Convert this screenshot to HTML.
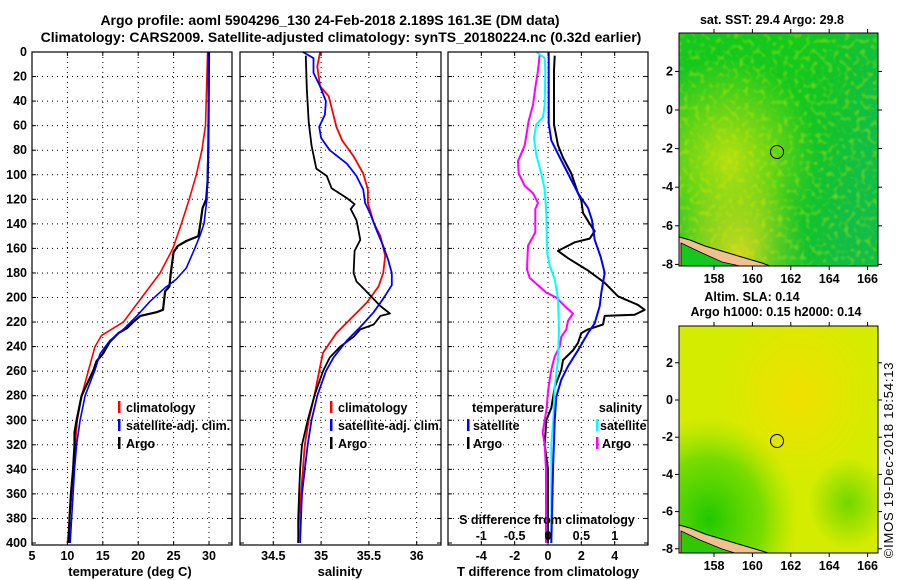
<!DOCTYPE html>
<html><head><meta charset="utf-8"><style>
html,body{margin:0;padding:0;background:#fff}
svg{display:block;font-family:"Liberation Sans",Arial,sans-serif;font-weight:bold}
</style></head><body>
<svg id="fig" width="900" height="580" viewBox="0 0 900 580" xmlns="http://www.w3.org/2000/svg">
<defs>
<radialGradient id="sstY" cx="0.25" cy="0.55" r="0.45"><stop offset="0" stop-color="#b8e010"/><stop offset="1" stop-color="#b8e010" stop-opacity="0"/></radialGradient>
<radialGradient id="sstY2" cx="0.3" cy="0.95" r="0.35"><stop offset="0" stop-color="#d0d820"/><stop offset="1" stop-color="#d0d820" stop-opacity="0"/></radialGradient>
<linearGradient id="sstB" x1="0" y1="0" x2="1" y2="0.3"><stop offset="0.6" stop-color="#10b840" stop-opacity="0"/><stop offset="1" stop-color="#10b860" stop-opacity="0.6"/></linearGradient>
<radialGradient id="slaO" cx="0.6" cy="0.3" r="0.4"><stop offset="0" stop-color="#f0e000"/><stop offset="1" stop-color="#f0e000" stop-opacity="0"/></radialGradient>
<radialGradient id="slaG" cx="0.15" cy="0.85" r="0.45"><stop offset="0" stop-color="#20c800"/><stop offset="0.6" stop-color="#60d800" stop-opacity="0.8"/><stop offset="1" stop-color="#90e000" stop-opacity="0"/></radialGradient>
<radialGradient id="slaG2" cx="0.85" cy="0.78" r="0.2"><stop offset="0" stop-color="#70d800"/><stop offset="1" stop-color="#70d800" stop-opacity="0"/></radialGradient>
<filter id="noise" x="0" y="0" width="1" height="1"><feTurbulence type="fractalNoise" baseFrequency="0.18" numOctaves="1" seed="3"/><feColorMatrix type="matrix" values="0 0 0 0 0.7  0 0 0 0 0.85  0 0 0 0 0  0 0 0 2.2 -1.1"/><feComposite in2="SourceGraphic" operator="in"/></filter>
</defs>

<g font-size="14" text-anchor="middle">
<text x="330" y="25">Argo profile: aoml 5904296_130 24-Feb-2018 2.189S 161.3E (DM data)</text>
<text x="341" y="42">Climatology: CARS2009. Satellite-adjusted climatology: synTS_20180224.nc (0.32d earlier)</text>
</g>

<g id="grids"></g>
<g id="lines"></g>
<g id="frames"></g>
<g id="labels" font-size="12.5"></g>

<!-- legends -->
<g font-size="12.5">
<rect x="118" y="401" width="2.5" height="12" fill="#f00"/><text x="126" y="412">climatology</text>
<rect x="118" y="419" width="2.5" height="12" fill="#00f"/><text x="126" y="430">satellite-adj. clim.</text>
<rect x="118" y="437" width="2.5" height="12" fill="#000"/><text x="126" y="448">Argo</text>
</g>
<g font-size="12.5">
<rect x="330" y="401" width="2.5" height="12" fill="#f00"/><text x="338" y="412">climatology</text>
<rect x="330" y="419" width="2.5" height="12" fill="#00f"/><text x="338" y="430">satellite-adj. clim.</text>
<rect x="330" y="437" width="2.5" height="12" fill="#000"/><text x="338" y="448">Argo</text>
</g>
<g font-size="12.5">
<text x="472" y="412">temperature</text>
<rect x="467" y="419" width="2.5" height="12" fill="#00f"/><text x="473" y="430">satellite</text>
<rect x="467" y="437" width="2.5" height="12" fill="#000"/><text x="473" y="448">Argo</text>
<text x="642" y="412" text-anchor="end">salinity</text>
<rect x="596" y="419" width="2.5" height="12" fill="#0ff"/><text x="600" y="430">satellite</text>
<rect x="596" y="437" width="2.5" height="12" fill="#f0f"/><text x="602" y="448">Argo</text>
</g>

<!-- maps -->
<g>
<rect x="679" y="33" width="199" height="233" fill="#14c81e"/>
<rect x="679" y="33" width="199" height="233" fill="url(#sstY)"/>
<rect x="679" y="33" width="199" height="233" fill="url(#sstY2)"/>
<rect x="679" y="33" width="199" height="233" fill="url(#sstB)"/>
<rect x="679" y="33" width="199" height="233" fill="#fff" filter="url(#noise)" opacity="0.6"/>
<path d="M679,237 L690,240 L705,246 L725,252 L745,258 L762,263 L770,266 L679,266 Z" fill="#f0c090" stroke="#000" stroke-width="1"/>
<path d="M681,243 L700,252 L722,262 L740,266 L681,266 Z" fill="#14c81e" stroke="#000" stroke-width="0.8"/>
<circle cx="777" cy="152" r="6.5" fill="none" stroke="#000" stroke-width="1"/>
<rect x="679" y="33" width="199" height="233" fill="none" stroke="#000" stroke-width="1"/>
</g>
<text x="772" y="24" font-size="12.5" text-anchor="middle">sat. SST: 29.4 Argo: 29.8</text>
<g>
<rect x="679" y="326" width="199" height="227" fill="#d4ec00"/>
<rect x="679" y="326" width="199" height="227" fill="url(#slaO)"/>
<rect x="679" y="326" width="199" height="227" fill="url(#slaG)"/>
<rect x="679" y="326" width="199" height="227" fill="url(#slaG2)"/>
<path d="M679,525 L690,528 L705,534 L725,540 L745,546 L762,551 L768,553 L679,553 Z" fill="#f0c090" stroke="#000" stroke-width="1"/>
<path d="M681,531 L700,540 L722,549 L735,553 L681,553 Z" fill="#30c800" stroke="#000" stroke-width="0.8"/>
<circle cx="777" cy="441" r="6.5" fill="none" stroke="#000" stroke-width="1"/>
<rect x="679" y="326" width="199" height="227" fill="none" stroke="#000" stroke-width="1"/>
</g>
<text x="752" y="301" font-size="12.5" text-anchor="middle">Altim. SLA: 0.14</text>
<text x="776" y="316" font-size="12.5" text-anchor="middle">Argo h1000: 0.15 h2000: 0.14</text>
<g id="mapticks" font-size="12.5"></g>
<text transform="translate(893,460) rotate(-90)" font-size="13" font-weight="normal" letter-spacing="0.8" text-anchor="middle">©IMOS 19-Dec-2018 18:54:13</text>
</svg>
<script>
// ---- data ----
var depthTicks = [0,20,40,60,80,100,120,140,160,180,200,220,240,260,280,300,320,340,360,380,400];
var tempTicks = [5,10,15,20,25,30];
var salTicks = [34.5,35,35.5,36];
var salTickLabels = ['34.5','35','35.5','36'];
var tdiffTicks = [-4,-2,0,2,4];
var sdiffTicks = [-1,-0.5,0,0.5,1];
var sdiffTickLabels = ['-1','-0.5','0','0.5','1'];
var lonTicks = [158,160,162,164,166];
var latTicks = [2,0,-2,-4,-6,-8];

var tClimDepth = [0,60,72,80,100,120,140,160,180,200,220,231,240,259,280,300,320,340,360,380,400];
var tClimVal   = [29.8,29.5,29.2,29.0,28.2,27.2,26.1,24.9,23.1,20.5,17.9,14.8,13.9,13.0,12.0,11.4,11.1,10.8,10.6,10.3,10.0];
var tSatDepth = [0,72,120,140,150,160,176,185,192,203,215,226,235,246,259,280,300,320,340,360,380,400];
var tSatVal   = [29.9,29.9,29.7,29.3,28.7,28.0,26.8,25.4,23.8,21.7,19.8,17.9,16.0,14.6,13.9,12.5,11.8,11.3,11.0,10.8,10.6,10.4];
var tArgoDepth = [0,80,105,120,127,139,150,154,158,163,180,191,195,210,212,215,220,225,229,236,246,252,259,280,300,310,320,340,360,380,400];
var tArgoVal   = [30.0,29.9,29.8,29.6,29.1,28.8,28.5,26.8,25.6,25.0,24.6,24.4,23.8,23.5,22.6,20.3,19.3,18.4,17.2,16.0,15.0,14.1,13.7,12.0,11.3,11.0,11.0,10.8,10.5,10.3,10.2];

var sClimDepth = [0,12,28,36,61,72,85,99,112,123,139,150,166,180,191,204,218,229,245,260,280,300,320,340,360,380,400];
var sClimVal   = [34.99,34.96,34.99,35.08,35.16,35.22,35.34,35.44,35.49,35.49,35.55,35.62,35.67,35.65,35.6,35.48,35.3,35.16,35.02,34.98,34.93,34.87,34.83,34.81,34.79,34.77,34.76];
var sSatDepth = [0,5,17,28,40,51,61,70,80,91,101,112,123,131,145,158,169,180,190,201,212,224,235,249,260,280,300,320,340,360,380,400];
var sSatVal   = [34.81,34.92,34.92,34.99,35.05,35.04,34.98,35.0,35.09,35.27,35.37,35.44,35.46,35.51,35.58,35.65,35.7,35.74,35.74,35.65,35.55,35.41,35.27,35.13,35.05,34.96,34.9,34.86,34.83,34.8,34.79,34.78];
var sArgoDepth = [3,30,57,76,95,101,111,119,124,128,137,153,162,180,187,194,207,213,215,222,226,232,240,249,260,280,300,320,340,360,380,400];
var sArgoVal   = [34.84,34.85,34.87,34.9,34.95,35.06,35.11,35.27,35.35,35.31,35.37,35.41,35.35,35.34,35.37,35.46,35.62,35.72,35.62,35.55,35.41,35.34,35.2,35.09,35.02,34.93,34.86,34.8,34.78,34.77,34.76,34.76];

var tdSatDepth = [0,58,72,83,99,115,127,137,153,167,180,196,207,221,229,243,256,267,281,300,340,400];
var tdSatVal   = [0.04,0.04,0.2,0.6,1.2,1.8,2.4,2.64,2.8,3.16,3.4,3.2,3.1,2.8,2.4,1.8,1.2,0.8,0.5,0.4,0.3,0.2];
var tdArgoDepth = [3,15,59,76,86,99,115,121,131,140,146,152,155,162,168,178,188,199,206,210,214,215,222,226,229,237,243,251,259,273,290,300,320,340,400];
var tdArgoVal   = [0.4,0.36,0.36,0.6,0.9,1.4,1.8,2.0,2.1,2.5,2.8,2.5,1.6,0.6,1.2,2.4,3.4,4.2,5.4,5.8,5.2,3.4,3.3,2.4,2.0,1.8,1.5,0.9,0.8,0.4,0.2,-0.1,-0.2,0.0,0.0];
var sdSatDepth = [0,5,15,43,53,59,70,84,99,112,131,164,174,185,201,226,251,273,300,320,400];
var sdSatVal   = [-0.175,-0.05,-0.04,-0.05,-0.075,-0.175,-0.21,-0.175,-0.1,-0.05,-0.025,-0.01,0.025,0.1,0.15,0.165,0.15,0.1,0.08,0.05,0.05];
var sdArgoDepth = [2,15,29,43,56,76,89,99,109,115,123,128,147,158,177,184,190,196,200,207,213,219,226,232,240,248,259,276,290,300,310,320,340,360,400];
var sdArgoVal   = [-0.125,-0.15,-0.19,-0.225,-0.29,-0.35,-0.45,-0.44,-0.35,-0.225,-0.15,-0.19,-0.19,-0.3,-0.315,-0.275,-0.15,-0.025,0.125,0.25,0.375,0.3,0.275,0.2,0.175,0.1,0.05,0.0,-0.02,-0.05,-0.08,-0.05,-0.03,-0.03,-0.03];

// ---- axes ----
function yD(d){return 52 + d*1.2275;}
function xT(t){return 32 + (t-5)*7.08;}
function xS(s){return 273.3 + (s-34.5)*95.6;}
function xTd(v){return 548 + v*16.67;}
function xSd(v){return 548 + v*66.7;}
function xLon(l){return 714 + (l-158)*19.2;}
function yLat1(l){return 110 - l*19.3;}
function yLat2(l){return 400 - l*18.6;}

var NS='http://www.w3.org/2000/svg';
function mk(tag, parent, attrs){var e=document.createElementNS(NS,tag);for(var k in attrs)e.setAttribute(k,attrs[k]);parent.appendChild(e);return e;}
var G=document.getElementById('grids'), L=document.getElementById('lines'), F=document.getElementById('frames'), LB=document.getElementById('labels'), MT=document.getElementById('mapticks');

var panels=[{x0:32,x1:232,name:'temperature-panel'},{x0:240,x1:441,name:'salinity-panel'},{x0:448,x1:648,name:'difference-panel'}];
var yTop=52,yBot=545;
panels.forEach(function(p,i){
  depthTicks.forEach(function(d){
    var y=yD(d);
    if(d>0&&d<400){
      var gl=mk('line',G,{x1:p.x0,x2:p.x1,y1:y,y2:y,stroke:'#000','stroke-width':1,'stroke-dasharray':'1,4'});
      
      
    }
    mk('line',F,{x1:p.x0,x2:p.x0+4,y1:y,y2:y,stroke:'#000'});
    mk('line',F,{x1:p.x1-4,x2:p.x1,y1:y,y2:y,stroke:'#000'});
  });
  var fr=mk('rect',F,{x:p.x0,y:yTop,width:p.x1-p.x0,height:yBot-yTop,fill:'none',stroke:'#000','stroke-width':1.2});
  
  
});
depthTicks.forEach(function(d){
  var t=mk('text',LB,{x:27,y:yD(d)+4,'text-anchor':'end'});
  t.textContent=d;
  
  
});
function vgrid(ticks,fx,p,labels,ly,nm){
  ticks.forEach(function(v,i){
    var x=fx(v);
    if(x>p.x0+1&&x<p.x1-1){
      var gl=mk('line',G,{x1:x,x2:x,y1:yTop,y2:yBot,stroke:'#000','stroke-dasharray':'1,4'});
      
      
    }
    mk('line',F,{x1:x,x2:x,y1:yBot-4,y2:yBot,stroke:'#000'});
    mk('line',F,{x1:x,x2:x,y1:yTop,y2:yTop+4,stroke:'#000'});
    var t=mk('text',LB,{x:x,y:ly,'text-anchor':'middle'});
    t.textContent=labels?labels[i]:v;
    
    
  });
}
vgrid(tempTicks,xT,panels[0],null,560,'temperature-tick-label');
vgrid(salTicks,xS,panels[1],salTickLabels,560,'salinity-tick-label');
vgrid(tdiffTicks,xTd,panels[2],null,560,'t-diff-tick-label');
sdiffTicks.forEach(function(v,i){
  var t=mk('text',LB,{x:xSd(v),y:540,'text-anchor':'middle'});
  t.textContent=sdiffTickLabels[i];
  
  
});
[['temperature (deg C)',130,'temperature-axis-title'],['salinity',340,'salinity-axis-title'],['T difference from climatology',548,'t-diff-axis-title']].forEach(function(a){
  var t=mk('text',LB,{x:a[1],y:576,'text-anchor':'middle','font-size':13});
  t.textContent=a[0];
  
  
});
var st=mk('text',LB,{x:547,y:524,'text-anchor':'middle'});
st.textContent='S difference from climatology';



function profile(depths,vals,fx,color,w,nm){
  var d=depths.map(function(z,i){return (i?'L':'M')+fx(vals[i]).toFixed(1)+','+yD(z).toFixed(1);}).join(' ');
  var p=mk('path',L,{d:d,fill:'none',stroke:color,'stroke-width':w,'stroke-linejoin':'round'});
  
  
}
profile(tClimDepth,tClimVal,xT,'#f00',1.6,'temperature-climatology-line');
profile(tArgoDepth,tArgoVal,xT,'#000',2.2,'temperature-argo-line');
profile(tSatDepth,tSatVal,xT,'#00f',1.6,'temperature-satellite-line');
profile(sClimDepth,sClimVal,xS,'#f00',1.8,'salinity-climatology-line');
profile(sArgoDepth,sArgoVal,xS,'#000',1.8,'salinity-argo-line');
profile(sSatDepth,sSatVal,xS,'#00f',1.8,'salinity-satellite-line');
profile(tdArgoDepth,tdArgoVal,xTd,'#000',2,'t-diff-argo-line');
profile(sdArgoDepth,sdArgoVal,xSd,'#f0f',2,'s-diff-argo-line');
profile(sdSatDepth,sdSatVal,xSd,'#0ff',2,'s-diff-satellite-line');
profile(tdSatDepth,tdSatVal,xTd,'#00f',2,'t-diff-satellite-line');

// map ticks
[[33,266,yLat1],[326,553,yLat2]].forEach(function(m,mi){
  lonTicks.forEach(function(l){
    var x=xLon(l);
    mk('line',MT,{x1:x,x2:x,y1:m[1],y2:m[1]+4,stroke:'#000'});
    mk('line',MT,{x1:x,x2:x,y1:m[0]-4,y2:m[0],stroke:'#000'});
    var t=mk('text',MT,{x:x,y:m[1]+17,'text-anchor':'middle'});
    t.textContent=l;
    
    
  });
  latTicks.forEach(function(l){
    var y=m[2](l);
    mk('line',MT,{x1:675,x2:679,y1:y,y2:y,stroke:'#000'});
    mk('line',MT,{x1:878,x2:882,y1:y,y2:y,stroke:'#000'});
    var t=mk('text',MT,{x:673,y:y+4,'text-anchor':'end'});
    t.textContent=l;
    
    
  });
});
</script>
</body></html>
